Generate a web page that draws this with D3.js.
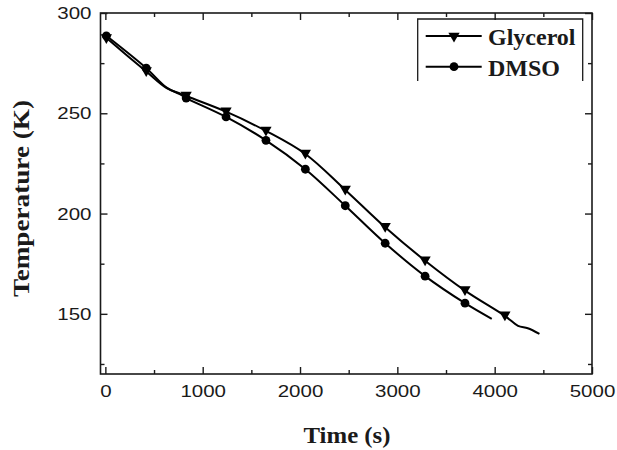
<!DOCTYPE html>
<html>
<head>
<meta charset="utf-8">
<script src="https://cdn.jsdelivr.net/npm/d3@7"></script>
<style>
  html, body { margin: 0; padding: 0; background: #fff; }
  svg { display: block; }
</style>
</head>
<body>
<svg id="chart" width="617" height="450"></svg>
<script>
// ---- data ----
const glycerolTime = [0, 420, 630, 770, 830, 1240, 1650, 2055, 2465, 2875, 3285, 3695, 4105, 4240, 4340, 4460];
const glycerolTemp = [288, 270.8, 262.5, 259.8, 258.6, 250.8, 241.2, 229.7, 211.8, 193.2, 176.5, 161.6, 149.0, 144.0, 142.8, 140.0];
const glycerolMarkerTime = [10, 420, 830, 1240, 1650, 2055, 2465, 2875, 3285, 3695, 4105];
const glycerolMarkerTemp = [287.3, 270.8, 258.6, 250.8, 241.2, 229.7, 211.8, 193.2, 176.5, 161.6, 149.0];

const dmsoTime = [0, 420, 630, 770, 830, 1240, 1650, 2055, 2465, 2875, 3285, 3695, 3970];
const dmsoTemp = [289, 272.5, 262.8, 259.4, 257.6, 248.2, 236.5, 222.1, 203.9, 185.2, 168.8, 155.3, 147.5];
const dmsoMarkerTime = [10, 420, 830, 1240, 1650, 2055, 2465, 2875, 3285, 3695];
const dmsoMarkerTemp = [288.6, 272.5, 257.6, 248.2, 236.5, 222.1, 203.9, 185.2, 168.8, 155.3];

const xMajorTicks = [0, 1000, 2000, 3000, 4000, 5000];
const xMinorTicks = [500, 1500, 2500, 3500, 4500];
const yMajorTicks = [150, 200, 250, 300];
const yMinorTicks = [125, 175, 225, 275];

const seriesNames = ["Glycerol", "DMSO"];
const xTitle = "Time (s)";
const yTitle = "Temperature (K)";

// ---- layout ----
const svg = d3.select("#chart");
const pL = 100.5, pR = 592, pT = 13, pB = 374;
const x = d3.scaleLinear().domain([-50, 5000]).range([pL, pR]);
const y = d3.scaleLinear().domain([120, 300]).range([pB, pT]);
const ink = "#1a1a1a";

function styleAxis(g) {
  g.select(".domain").remove();
  g.selectAll("line").attr("stroke", ink).attr("stroke-width", 1.4);
}

// bottom
svg.append("g").attr("transform", `translate(0,${pB})`)
  .call(d3.axisBottom(x).tickValues(xMajorTicks).tickSize(-7).tickPadding(11).tickFormat(d3.format("d")))
  .call(styleAxis)
  .call(g => g.selectAll("text")
    .attr("font-family", "Liberation Sans, Arial, sans-serif").attr("font-size", 17).attr("fill", ink)
    .attr("textLength", d => String(d).length * 11.4).attr("lengthAdjust", "spacingAndGlyphs"));
svg.append("g").attr("transform", `translate(0,${pB})`)
  .call(d3.axisBottom(x).tickValues(xMinorTicks).tickSize(-4).tickFormat(""))
  .call(styleAxis);
// top
svg.append("g").attr("transform", `translate(0,${pT})`)
  .call(d3.axisTop(x).tickValues(xMajorTicks).tickSize(-7).tickFormat(""))
  .call(styleAxis);
svg.append("g").attr("transform", `translate(0,${pT})`)
  .call(d3.axisTop(x).tickValues(xMinorTicks).tickSize(-4).tickFormat(""))
  .call(styleAxis);
// left
svg.append("g").attr("transform", `translate(${pL},0)`)
  .call(d3.axisLeft(y).tickValues(yMajorTicks).tickSize(-7).tickPadding(9).tickFormat(d3.format("d")))
  .call(styleAxis)
  .call(g => g.selectAll("text")
    .attr("font-family", "Liberation Sans, Arial, sans-serif").attr("font-size", 17).attr("fill", ink)
    .attr("textLength", d => String(d).length * 11.4).attr("lengthAdjust", "spacingAndGlyphs"));
svg.append("g").attr("transform", `translate(${pL},0)`)
  .call(d3.axisLeft(y).tickValues(yMinorTicks).tickSize(-4).tickFormat(""))
  .call(styleAxis);
// right
svg.append("g").attr("transform", `translate(${pR},0)`)
  .call(d3.axisRight(y).tickValues(yMajorTicks).tickSize(-7).tickFormat(""))
  .call(styleAxis);
svg.append("g").attr("transform", `translate(${pR},0)`)
  .call(d3.axisRight(y).tickValues(yMinorTicks).tickSize(-4).tickFormat(""))
  .call(styleAxis);

// frame
svg.append("rect").attr("x", pL).attr("y", pT).attr("width", pR - pL).attr("height", pB - pT)
  .attr("fill", "none").attr("stroke", ink).attr("stroke-width", 1.6);

// ---- series ----
const line = d3.line().x(d => x(d[0])).y(d => y(d[1])).curve(d3.curveCatmullRom.alpha(0.5));
const gData = glycerolTime.map((t, i) => [t, glycerolTemp[i]]);
const dData = dmsoTime.map((t, i) => [t, dmsoTemp[i]]);

svg.append("path").attr("d", line(gData)).attr("fill", "none").attr("stroke", "#000").attr("stroke-width", 2);
svg.append("path").attr("d", line(dData)).attr("fill", "none").attr("stroke", "#000").attr("stroke-width", 2);

const tri = d3.symbol().type(d3.symbolTriangle).size(55);
svg.append("g").selectAll("path")
  .data(glycerolMarkerTime.map((t, i) => [t, glycerolMarkerTemp[i]]))
  .join("path")
  .attr("d", tri)
  .attr("transform", d => `translate(${x(d[0])},${y(d[1]) - 1}) rotate(180)`)
  .attr("fill", "#000");

svg.append("g").selectAll("circle")
  .data(dmsoMarkerTime.map((t, i) => [t, dmsoMarkerTemp[i]]))
  .join("circle")
  .attr("cx", d => x(d[0])).attr("cy", d => y(d[1])).attr("r", 4.4)
  .attr("fill", "#000");

// ---- axis titles ----
svg.append("text").attr("x", 347).attr("y", 443)
  .attr("text-anchor", "middle")
  .attr("font-family", "Liberation Serif, Times New Roman, serif").attr("font-weight", "bold")
  .attr("font-size", 24).attr("fill", ink)
  .attr("textLength", 87).attr("lengthAdjust", "spacingAndGlyphs")
  .text(xTitle);

svg.append("text").attr("transform", "translate(28.5,198.5) rotate(-90)")
  .attr("text-anchor", "middle")
  .attr("font-family", "Liberation Serif, Times New Roman, serif").attr("font-weight", "bold")
  .attr("font-size", 24).attr("fill", ink)
  .attr("textLength", 197).attr("lengthAdjust", "spacingAndGlyphs")
  .text(yTitle);

// ---- legend ----
const lg = svg.append("g");
lg.append("path")
  .attr("d", "M417.7,81V19H582.7V81")
  .attr("fill", "none").attr("stroke", ink).attr("stroke-width", 1.3);
const legY = [36, 66.7];
seriesNames.forEach((name, i) => {
  lg.append("line").attr("x1", 425.7).attr("x2", 481.7).attr("y1", legY[i]).attr("y2", legY[i])
    .attr("stroke", "#000").attr("stroke-width", 2);
  if (i === 0) {
    lg.append("path").attr("d", tri).attr("transform", `translate(454,${legY[i]}) rotate(180)`).attr("fill", "#000");
  } else {
    lg.append("circle").attr("cx", 454).attr("cy", legY[i]).attr("r", 4.4).attr("fill", "#000");
  }
  lg.append("text").attr("x", 488).attr("y", legY[i] + 9.3)
    .attr("font-family", "Liberation Serif, Times New Roman, serif").attr("font-weight", "bold")
    .attr("font-size", 24).attr("fill", ink)
    .text(name);
});
</script>
</body>
</html>
